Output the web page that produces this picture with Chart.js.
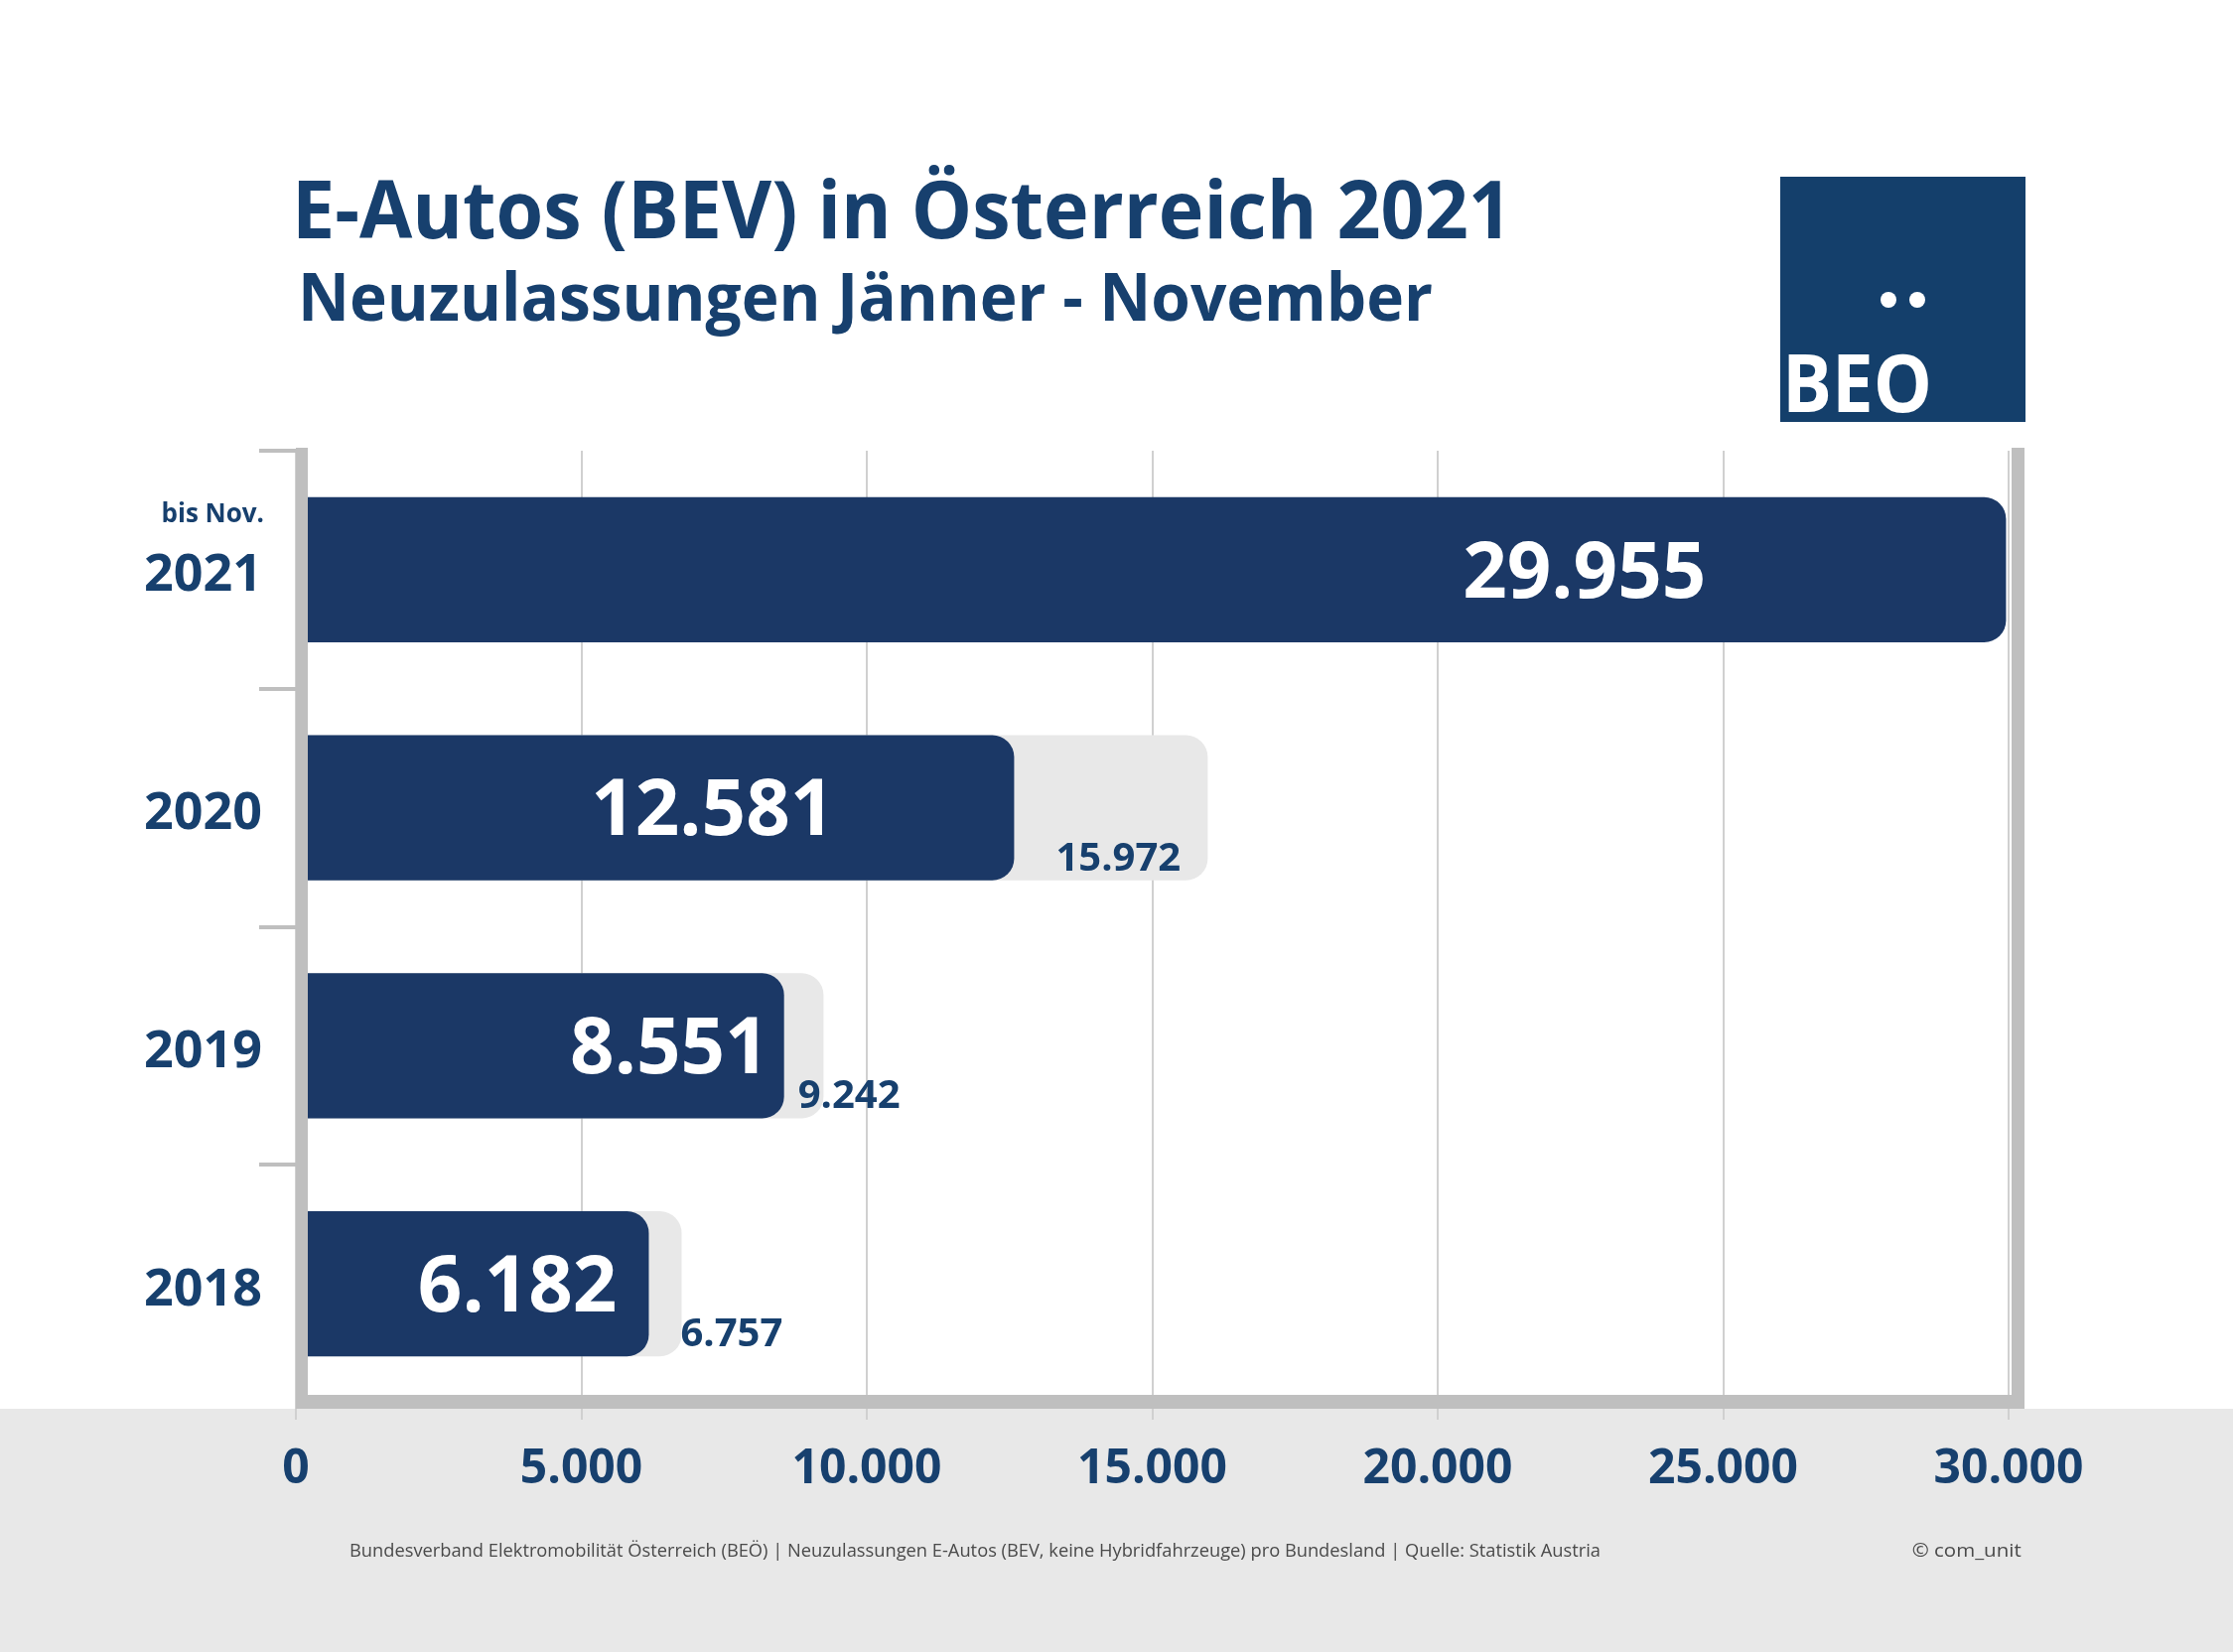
<!DOCTYPE html>
<html lang="de">
<head>
<meta charset="utf-8">
<title>E-Autos (BEV) in Österreich 2021</title>
<script src="https://cdn.jsdelivr.net/npm/chart.js@4.4.1/dist/chart.umd.min.js"></script>
<style>
  body { margin: 0; width: 2249px; height: 1664px; position: relative; overflow: hidden; background: #fff; font-family: "Open Sans", sans-serif; }
  .abs { position: absolute; white-space: nowrap; line-height: 1; }
  .title { color: #17406e; font-weight: 700; transform-origin: left top; }
  .band { position: absolute; left: 0; top: 1419px; width: 2249px; height: 245px; background: #e8e8e8; }
  .logo { position: absolute; left: 1793px; top: 178px; width: 247px; height: 247px; background: #143f6b; }
  .dot { position: absolute; width: 16px; height: 16px; border-radius: 50%; background: #fff; top: 116px; }
  .note { color: #4a4a4a; font-size: 18px; }
  #chart { position: absolute; left: 0; top: 0; }
</style>
</head>
<body>
<div class="band"></div>
<canvas id="chart" width="2249" height="1664"></canvas>

<div class="abs title" style="left:294px; top:168px; font-size:81px;" data-fit="1229">E-Autos (BEV) in Österreich 2021</div>
<div class="abs title" style="left:300px; top:264px; font-size:66px;" data-fit="1143">Neuzulassungen Jänner - November</div>

<div class="logo">
  <div class="dot" style="left:101px;"></div>
  <div class="dot" style="left:130px;"></div>
  <div class="abs" style="left:2px; top:166px; font-size:80px; font-weight:700; color:#fff; transform-origin:left top;" data-fit="151">BEO</div>
</div>

<div class="abs note" style="left:352px; top:1552px; transform-origin:left top;" data-fit="1260">Bundesverband Elektromobilität Österreich (BEÖ) | Neuzulassungen E-Autos (BEV, keine Hybridfahrzeuge) pro Bundesland | Quelle: Statistik Austria</div>
<div class="abs note" style="right:213px; top:1552px; transform-origin:right top;" data-fit="110">© com_unit</div>

<script>
// Neuzulassungen E-Autos (BEV) in Österreich
const years = ['2021', '2020', '2019', '2018'];
const yearNotes = ['bis Nov.', '', '', ''];
const janNov = [29955, 12581, 8551, 6182];     // Jänner - November
const fullYear = [null, 15972, 9242, 6757];    // ganzes Jahr
const xMax = 30000;
const xStep = 5000;

const navy = '#17406e';
const barBlue = '#1b3866';
const frameGray = '#bfbfbf';

function fmt(v) {
  return String(v).replace(/\B(?=(\d{3})+(?!\d))/g, '.');
}

// squeeze html text to the width of the original
document.querySelectorAll('[data-fit]').forEach(el => {
  const w = el.getBoundingClientRect().width;
  el.style.transform = 'scaleX(' + (el.dataset.fit / w) + ')';
});

const barLabels = {
  id: 'barLabels',
  afterDatasetsDraw(chart, args, opts) {
    const ctx = chart.ctx;
    const bars = chart.getDatasetMeta(0).data;
    ctx.save();
    ctx.textBaseline = 'alphabetic';
    bars.forEach((bar, i) => {
      ctx.font = 'bold 78px "Open Sans"';
      ctx.fillStyle = '#ffffff';
      ctx.textAlign = 'right';
      ctx.fillText(fmt(janNov[i]), bar.x - opts.inset[i], bar.y + 0.714 * 78 / 2);
      if (fullYear[i] != null) {
        ctx.font = 'bold 40px "Open Sans"';
        ctx.fillStyle = navy;
        ctx.textAlign = 'left';
        ctx.fillText(fmt(fullYear[i]), bar.x + opts.gap[i], bar.y + bar.height / 2 - 10);
      }
    });

    // grey frame: left, right and bottom
    const a = chart.chartArea;
    ctx.fillStyle = frameGray;
    ctx.fillRect(a.left, a.top - 3, 12, a.bottom - a.top + 9);
    ctx.fillRect(a.right + 3, a.top - 3, 13, a.bottom - a.top + 9);
    ctx.fillRect(a.left, a.bottom - 8, a.right + 16 - a.left, 14);

    // year labels (caps centred on the bar) and the note above 2021
    const y = chart.scales.y;
    ctx.fillStyle = navy;
    ctx.textAlign = 'right';
    years.forEach((yr, i) => {
      const py = y.getPixelForTick(i);
      ctx.font = 'bold 52px "Open Sans"';
      ctx.fillText(yr, y.right - 34, py + 0.714 * 52 / 2 + 3);
      if (yearNotes[i]) {
        ctx.font = 'bold 26px "Open Sans"';
        ctx.fillText(yearNotes[i], y.right - 32, py - 48);
      }
    });
    ctx.restore();
  }
};

new Chart(document.getElementById('chart'), {
  type: 'bar',
  data: {
    labels: years,
    datasets: [{
      label: 'Jänner - November',
      data: janNov,
      backgroundColor: barBlue,
      borderRadius: 22,
      borderSkipped: 'start',
      barPercentage: 0.61,
      categoryPercentage: 1,
      grouped: false
    }, {
      label: 'Gesamtjahr',
      data: fullYear,
      backgroundColor: '#e8e8e8',
      borderRadius: 22,
      borderSkipped: 'start',
      barPercentage: 0.61,
      categoryPercentage: 1,
      grouped: false
    }]
  },
  options: {
    indexAxis: 'y',
    responsive: false,
    devicePixelRatio: 1,
    animation: false,
    layout: { padding: { left: 0, top: 454, right: 226, bottom: 131 } },
    plugins: {
      legend: { display: false },
      tooltip: { enabled: false },
      barLabels: { inset: [302, 181, 15, 32], gap: [0, 42, 14, 32] }
    },
    scales: {
      x: {
        min: 0,
        max: xMax,
        afterFit: s => { s.height = 120; },
        ticks: {
          stepSize: xStep,
          padding: 22,
          color: navy,
          font: { family: 'Open Sans', weight: 'bold', size: 48 },
          callback: v => fmt(v)
        },
        grid: { color: '#d0d0d0', lineWidth: 2, tickLength: 17 },
        border: { display: false }
      },
      y: {
        afterFit: s => { s.width = 298; },
        ticks: { display: false },
        grid: {
          drawOnChartArea: false,
          tickLength: 37,
          lineWidth: 4,
          color: c => c.type === 'tick' ? frameGray : 'rgba(0,0,0,0)'
        },
        border: { display: false }
      }
    }
  },
  plugins: [barLabels]
});
</script>
</body>
</html>
